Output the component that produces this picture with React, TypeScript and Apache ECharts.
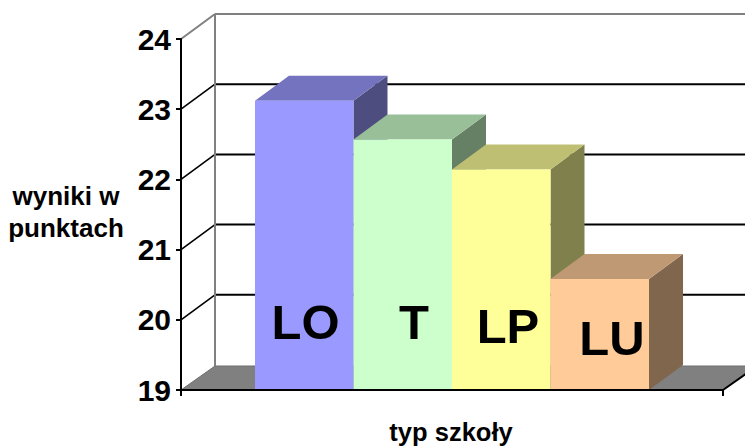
import React, { useEffect, useRef } from "react";
import * as echarts from "echarts";

const schools = ["LO", "T", "LP", "LU"];
const scores = [23.12, 22.57, 22.14, 20.58];
const colors = ["#9999FF", "#CCFFCC", "#FFFF99", "#FFCC99"];
const tickValues = [19, 20, 21, 22, 23, 24];
const category = ["typ"];
const yTitle = "wyniki w\npunktach";
const xTitle = "typ szkoły";

const DX = 34;
const DY = 25;
const FONT = "Liberation Sans, Arial, sans-serif";
const LABEL_POS: [number, number][] = [[305.5, 322], [414, 322], [508, 326], [612, 338]];

function shade(hex: string, k: number) {
  const n = parseInt(hex.slice(1), 16);
  const c = [(n >> 16) & 255, (n >> 8) & 255, n & 255].map((v) => Math.round(v * k));
  return `rgb(${c[0]},${c[1]},${c[2]})`;
}

const wallItem = (_: any, api: any) => {
  const v = api.value(0);
  const [x0, y] = api.coord([0, v]);
  const w = api.size([1, 0])[0];
  const left = x0 - w / 2;
  const right = x0 + w / 2;
  const bx = left + DX;
  const by = y - DY;
  const grey = "#808080";
  const children: any[] = [];
  if (v === tickValues[0]) {
    children.push({
      type: "polygon",
      shape: { points: [[left, y], [bx, by + 1], [right + DX, by + 1], [right, y]] },
      style: { fill: grey, stroke: "#6e6e6e", lineWidth: 1 },
    });
    children.push({
      type: "line",
      shape: { x1: right, y1: y, x2: right + DX, y2: by + 1 },
      style: { stroke: "#000", lineWidth: 2 },
    });
  } else {
    const top = v === tickValues[tickValues.length - 1];
    const stroke = top ? grey : "#000";
    children.push({
      type: "line",
      shape: { x1: left, y1: y, x2: bx, y2: by },
      style: { stroke, lineWidth: top ? 2 : 1.6 },
    });
    children.push({
      type: "line",
      shape: { x1: bx, y1: by, x2: right + DX, y2: by },
      style: { stroke, lineWidth: 2 },
    });
    if (top) {
      children.push({
        type: "line",
        shape: { x1: bx, y1: by, x2: bx, y2: api.coord([0, tickValues[0]])[1] - DY + 1 },
        style: { stroke: grey, lineWidth: 2 },
      });
    }
  }
  return { type: "group", children };
};

const barItem = (index: number) => (_: any, api: any) => {
  const [cx, yTop] = api.coord([0, api.value(1)]);
  const yBase = api.coord([0, tickValues[0]])[1];
  const band = api.size([1, 0])[0];
  const bw = (band * 0.727) / schools.length;
  const x = cx - (bw * schools.length) / 2 + bw * index;
  const base = colors[index];
  return {
    type: "group",
    children: [
      {
        type: "polygon",
        shape: { points: [[x + bw, yTop], [x + bw + DX, yTop - DY], [x + bw + DX, yBase - DY], [x + bw, yBase]] },
        style: { fill: shade(base, 0.5) },
      },
      {
        type: "polygon",
        shape: { points: [[x, yTop], [x + DX, yTop - DY], [x + bw + DX, yTop - DY], [x + bw, yTop]] },
        style: { fill: shade(base, 0.75) },
      },
      {
        type: "rect",
        shape: { x, y: yTop, width: bw, height: yBase - yTop },
        style: { fill: base },
      },
    ],
  };
};

export default function App() {
  const ref = useRef<HTMLDivElement>(null);
  useEffect(() => {
    const chart = echarts.init(ref.current!, undefined, { renderer: "svg" });
    chart.setOption({
      animation: false,
      backgroundColor: "#fff",
      grid: { left: 181, right: 22, top: 39, bottom: 56, containLabel: false, outerBoundsMode: "none" },
      xAxis: {
        type: "category",
        data: category,
        axisLabel: { show: false },
        axisLine: { lineStyle: { color: "#000", width: 2 } },
        axisTick: { show: true, length: 6, lineStyle: { color: "#000", width: 2 } },
        splitLine: { show: false },
        z: 5,
      },
      yAxis: {
        type: "value",
        min: 19,
        max: 24,
        interval: 1,
        axisLabel: { fontFamily: FONT, fontWeight: "bold", fontSize: 30, color: "#000", margin: 10 },
        axisLine: { show: true, lineStyle: { color: "#000", width: 2 } },
        axisTick: { show: true, length: 5, lineStyle: { color: "#000", width: 2 } },
        splitLine: { show: false },
        z: 5,
      },
      series: [
        {
          type: "custom",
          name: "walls",
          coordinateSystem: "cartesian2d",
          renderItem: wallItem,
          encode: { y: 0 },
          data: tickValues.map((v) => [v]),
          silent: true,
          clip: false,
          z: 1,
        },
        ...schools.map((s, i) => ({
          type: "custom",
          name: s,
          coordinateSystem: "cartesian2d",
          renderItem: barItem(i),
          encode: { x: 0, y: 1 },
          data: [[0, scores[i]]],
          clip: false,
          z: 2,
        })),
      ],
      graphic: [
        ...schools.map((s, i) => ({
          type: "text",
          x: LABEL_POS[i][0],
          y: LABEL_POS[i][1],
          z: 10,
          style: {
            text: s,
            fill: "#000",
            font: `bold 49px ${FONT}`,
            textAlign: "center",
            textVerticalAlign: "middle",
          },
        })),
        {
          type: "text",
          x: 66,
          y: 212,
          z: 10,
          style: {
            text: yTitle,
            fill: "#000",
            font: `bold 26px ${FONT}`,
            lineHeight: 32,
            textAlign: "center",
            textVerticalAlign: "middle",
          },
        },
        {
          type: "text",
          x: 451,
          y: 432,
          z: 10,
          style: {
            text: xTitle,
            fill: "#000",
            font: `bold 25.5px ${FONT}`,
            textAlign: "center",
            textVerticalAlign: "middle",
          },
        },
      ],
    });
    return () => chart.dispose();
  }, []);
  return <div ref={ref} style={{ position: "absolute", left: 0, top: 0, width: 745, height: 446 }} />;
}
